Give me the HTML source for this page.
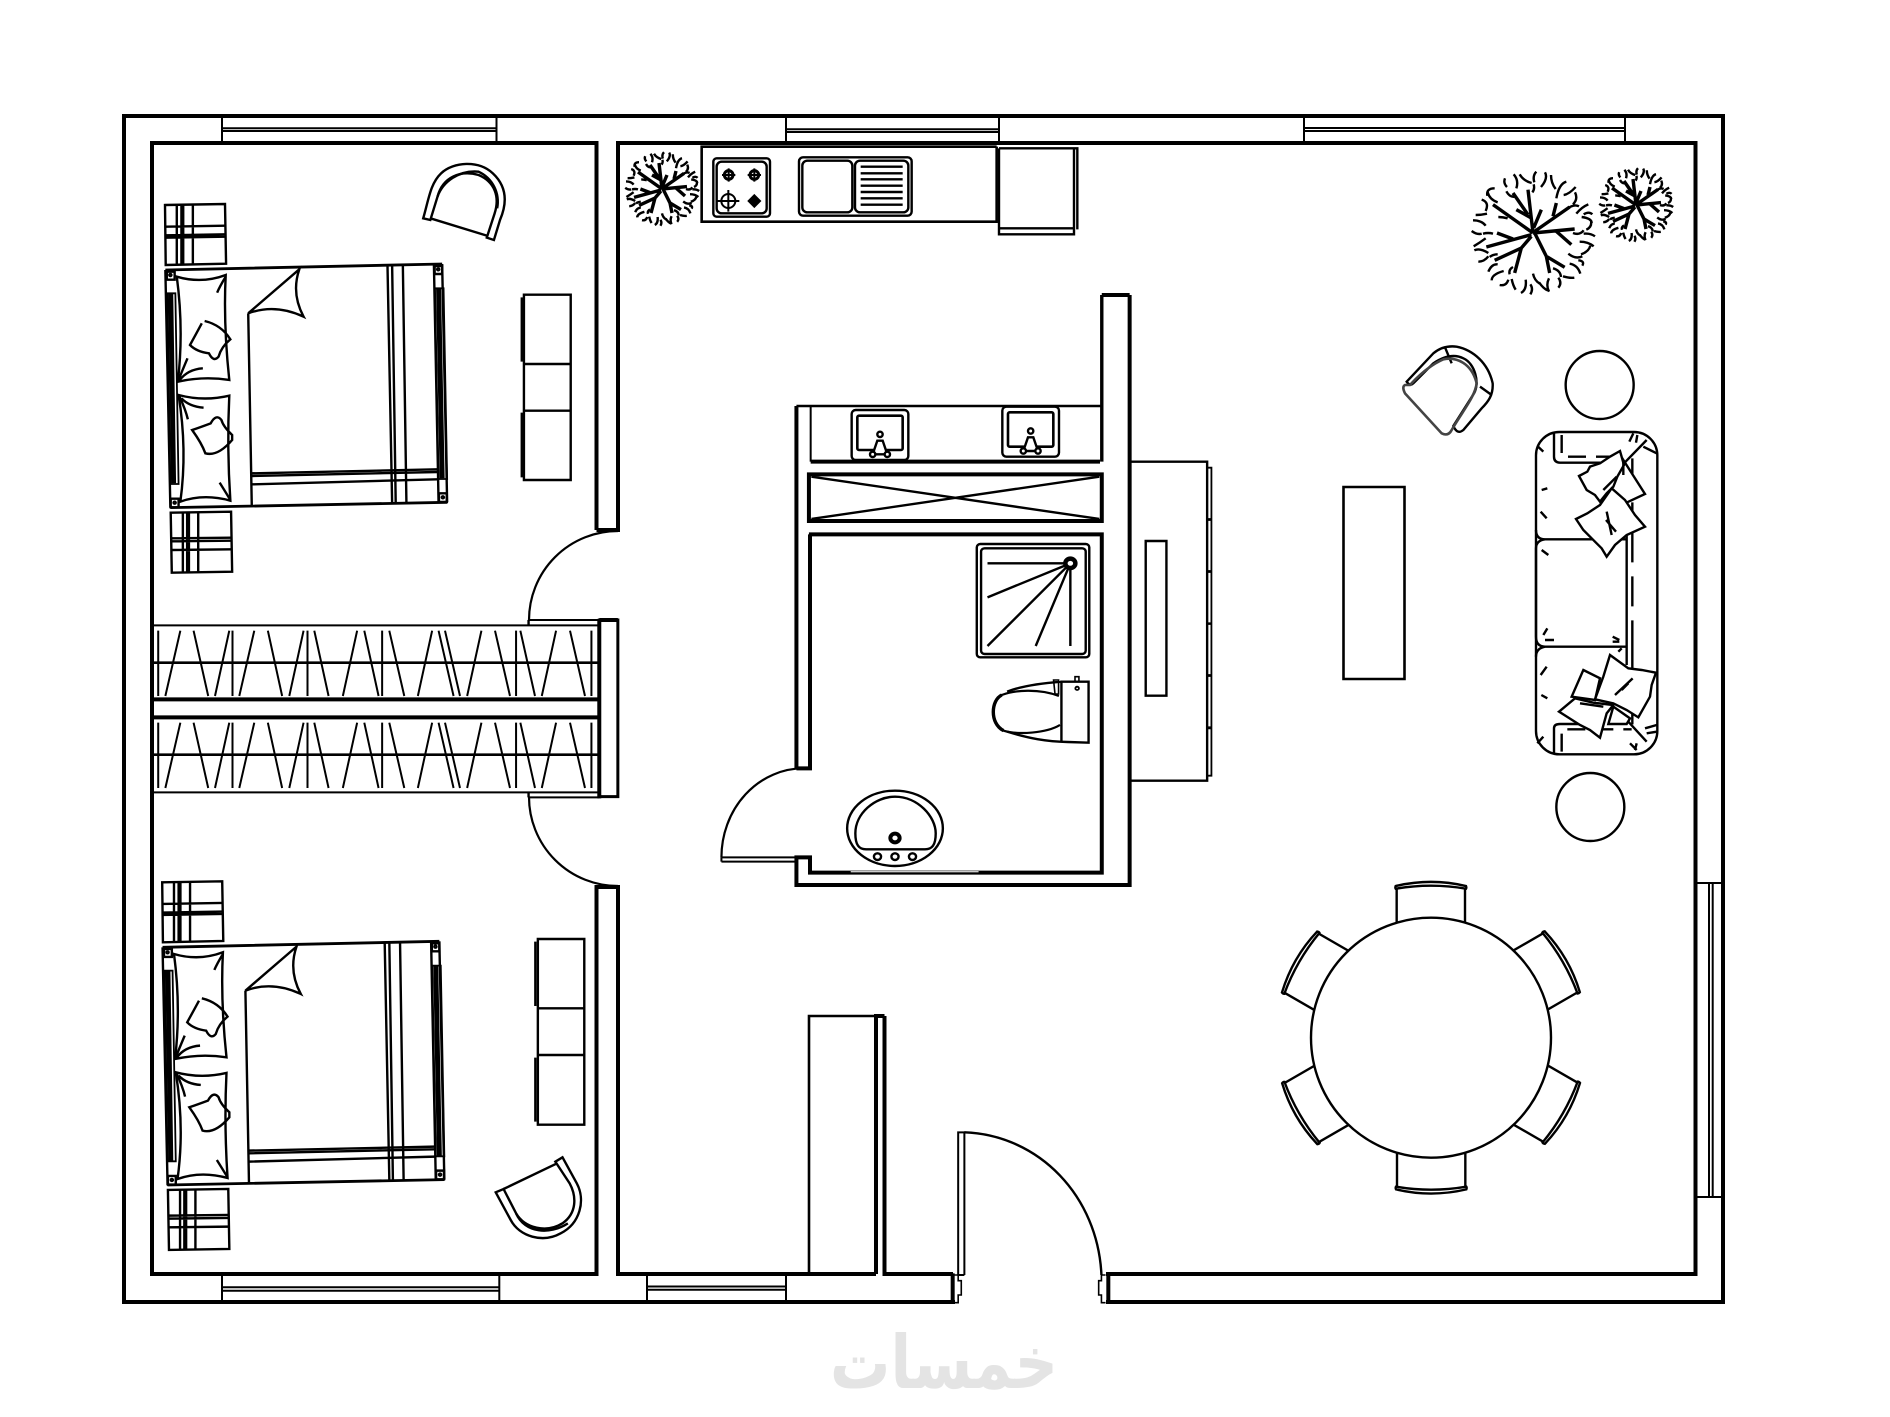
<!DOCTYPE html>
<html><head><meta charset="utf-8"><title>Floor plan</title>
<style>
html,body{margin:0;padding:0;background:#fff}
svg{display:block}
svg *{vector-effect:non-scaling-stroke}
</style></head>
<body>
<svg xmlns="http://www.w3.org/2000/svg" width="1890" height="1417" viewBox="0 0 1890 1417" fill="none" stroke="#000" stroke-width="2.4" stroke-linejoin="miter">
<rect x="0" y="0" width="1890" height="1417" fill="#fff" stroke="none"/>
<defs>
<g id="tree">
<path transform="translate(-400,-400)" d="M342 224q16 18 8 42M316 236q-6 14 6 26M360 224q12 20 36 26M398 278q8-10 4-24M410 216q-12 12-6 32M436 218q10 18-12 44M454 226q0 24 14 42M500 246q-22 6-30 50M528 262q-20 22-36 24M526 278q10 20-6 36M285 266q-26 0-22 22M264 278q6 22 30 30M320 275q10 18 24 16M246 300q24 8 12 34M262 342q-18 4-34 4M296 352q14 0 28 4M220 362q26 0 38 16M216 394q16 12 30 8M250 402q16-4 30 0M222 440q20-12 36-24M224 452q16-8 42 8M236 486q18 0 30-16M270 472q10-8 24-8M266 516q10-24 28-22M276 542q0-18 36-28M300 556q20 4 26-16M330 524q-4-14 10-22M336 538q4 20 12 32M364 580q18-10 14-40M392 584q10-16 0-30M400 522q4 20 20 30M418 548q14 20 26 24M448 576q-10-20 0-40M476 564q12-14 0-30M460 506q22 6 24 26M490 530q20 6 34 4M510 492q24 4 32 30M536 482q20 2 12 16M506 462q22 18 42 8M544 464q24-8 28-26M540 426q26 0 42 14M520 400q20 8 32-8M552 402q20-2 34 8M546 352q30 4 30 18M552 344q16-10 26 0M574 362q4 20-14 28M530 342q16-20 36-28M502 328q20-16 36-8"/>
<g stroke-width="3.4">
<path d="M0 0L-15 -130M-60 -120L-15 -55M-50 -70L-5 -45M0 0L-120 -85M0 0L125 -12M5 -5L110 -78M70 -90L60 -50M25 -70L2 -15M70 -5L115 35M5 0L40 70L95 103M40 70L50 120M-5 5L-140 42M-108 0L-60 18M-5 10L-35 45L-115 82M-35 45L-55 120"/>
</g>
</g>
<g id="closet" stroke-width="2">
<path d="M163 92V288M225 92L183 288M262 92L303 288M362 92L322 288M371 92V288M432 92L390 288M470 92L510 288M570 92L530 288M581 92V288M600 92L640 288M720 92L680 288M740 92L780 288M790 92V288M810 92L852 288M930 92L890 288M948 92L990 288M966 92L1008 288M1068 92L1028 288M1106 92L1148 288M1165 92V288M1177 92L1218 288M1277 92L1237 288M1316 92L1358 288M1376 92V288"/>
<path d="M150 188H1396" stroke-width="2.6"/>
</g>
<g id="bed">
<path d="M183 540L958 522M197 1253L972 1237" stroke-width="2.8"/>
<path d="M183 540L197 1253M935 525L948 1238M958 522L972 1237"/>
<rect x="187" y="545" width="22" height="24"/><circle cx="197" cy="555" r="3"/>
<rect x="937" y="528" width="21" height="24"/><circle cx="947" cy="538" r="3"/>
<rect x="949" y="1210" width="22" height="26"/><circle cx="960" cy="1222" r="3"/>
<rect x="198" y="1226" width="22" height="26"/><circle cx="209" cy="1238" r="3"/>
<path d="M198 610L206 1180M948 595L958 1165" stroke-width="5"/>
<path d="M189 610L197 1182H220L211 610ZM938 595L948 1167H972L962 595Z" stroke-width="1.8"/>
<path d="M215 560Q285 582 352 555Q345 700 362 870Q290 858 218 875Q235 720 215 560Z"/>
<path d="M220 915Q290 935 362 917Q355 1070 365 1232Q290 1210 225 1235Q245 1080 220 915Z"/>
<path d="M352 560Q335 590 328 608M218 875Q235 830 245 805M222 872Q245 838 288 835M222 918Q240 960 246 988M228 925Q250 950 290 953M365 1230Q345 1195 335 1178"/>
<path d="M293 693Q340 705 365 748Q340 770 332 800Q318 818 305 790Q270 785 252 765Q270 730 285 700"/>
<path d="M370 1035Q345 1010 340 990Q325 970 310 1000Q280 1012 258 1020Q285 1060 295 1090Q330 1100 370 1050Z"/>
<path d="M415 670L425 1248M415 670L558 538Q535 610 570 680Q490 640 415 670Z"/>
<path d="M805 527L818 1240M818 527L828 1240M848 527L858 1240"/>
<path d="M425 1150L945 1138M425 1158L945 1146M425 1183L945 1168" stroke-width="2.4"/>
<path d="M182 345L350 342L353 521L184 525Z"/>
<path d="M215 345V523M228 345V523M233 345V523M260 345V522M184 410L351 407M184 436L351 433M184 443L351 440"/>
<path d="M198 1268L367 1265L370 1445L201 1448Z"/>
<path d="M232 1268V1447M244 1268V1447M249 1268V1447M275 1268V1446M200 1345L368 1343M200 1354L368 1352M200 1380L369 1378"/>
</g>
<g id="dc">
<path d="M-103 -175V-456M102 -175V-456" />
<path d="M-106 -455Q0 -480 105 -455Q107 -450 105 -447Q0 -465 -106 -447Q-108 -450 -106 -455Z" fill="#fff"/>
</g>
</defs>

<!-- walls -->
<g stroke-width="4">
<path d="M955 1302H124V116H1723V1302H1106"/>
<path d="M596.5 530V143H152V1274H596.5V887H618V1274H876"/>
<path d="M596.5 530H618V143H1695.5V1274H1106"/>
<path d="M884.5 1016V1274H953"/>
<path d="M876 1274V1016H884.5" />
</g>
<path d="M809 1274V1016H876" stroke-width="2.6"/>
<rect x="1343.5" y="487" width="61" height="192" stroke-width="2.6"/>

<!-- windows -->
<g stroke-width="2">
<path d="M222 116V143M496.5 116V143M222 128.3H496.5M222 131H496.5"/>
<path d="M786 116V143M999 116V143M786 129.3H999M786 132H999"/>
<path d="M1304 116V143M1625 116V143M1304 128H1625M1304 131H1625"/>
<path d="M1696 883H1723M1696 1197H1723M1709 883V1197M1712.7 883V1197"/>
<path d="M222 1274V1302M499.3 1274V1302M222 1287.3H499.3M222 1290.7H499.3"/>
<path d="M647 1274V1302M786 1274V1302M647 1286.5H786M647 1289.7H786"/>
</g>

<!-- closets & bedroom doors -->
<g transform="translate(100,600) scale(.35714,.33333)">
<path d="M1398 60H1450V590H1398Z" stroke-width="3"/>
<path d="M1398 60V595M1398 60H1450" stroke-width="4"/>
<path d="M150 76H1398M1200 60H1398M150 577H1398M1200 592H1398" stroke-width="2"/>
<path d="M1200 60V76M1200 577V592"/>
<path d="M145 298H1398M145 352H1398" stroke-width="4"/>
<use href="#closet"/>
<use href="#closet" transform="translate(0,276)"/>
</g>
<path d="M529 620A89 89 0 0 1 618 531" stroke-width="2.2"/>
<path d="M529 797A89 89 0 0 0 618 886" stroke-width="2.2"/>

<!-- beds -->
<g transform="translate(100,90) scale(.35714,.33333)">
<use href="#bed"/>
<rect x="1187" y="614" width="131" height="556" stroke-width="2.4"/>
<path d="M1187 822H1318M1187 962H1318" stroke-width="2.4"/>
<path d="M1181 622V815M1181 968V1162" stroke-width="2.4"/>
<path d="M905 385C920 330 925 280 955 250C990 215 1060 210 1100 250C1140 290 1140 340 1120 390L1103 450L1083 443L1105 370C1120 320 1105 275 1060 255C1010 240 960 260 945 320L925 390Z"/>
<path d="M945 320C960 275 1005 240 1060 245C1100 265 1120 310 1112 355M925 385L1083 437"/>
</g>
<g transform="translate(-2.8,677.3)">
<g transform="translate(100,90) scale(.35714,.33333)"><use href="#bed"/></g>
</g>
<g transform="translate(100,880) scale(.35714,.33333)">
<rect x="1226" y="177" width="130" height="557" stroke-width="2.4"/>
<path d="M1226 385H1356M1226 525H1356" stroke-width="2.4"/>
<path d="M1219 185V378M1219 533V725" stroke-width="2.4"/>
<path d="M1108 937L1150 1020C1175 1070 1240 1090 1290 1060C1345 1030 1360 960 1335 910L1295 832L1275 845L1315 910C1335 950 1335 1000 1295 1030C1250 1060 1190 1045 1165 1000L1130 927Z"/>
<path d="M1130 927L1280 850M1165 1000C1190 1060 1260 1065 1310 1030"/>
</g>

<!-- kitchen -->
<g transform="translate(600,110) scale(.33333)">
<path d="M1190 110H305V335H1190V110" stroke-width="2.6"/>
<path d="M1197 115H1432V358M1422 115V373H1197V115M1197 355H1422" stroke-width="2.4"/>
<rect x="340" y="145" width="170" height="175" rx="10"/>
<rect x="350" y="155" width="150" height="155" rx="15"/>
<g stroke-width="2">
<circle cx="386" cy="195" r="13" stroke-width="3"/><path d="M386 175V215M366 195H406"/>
<circle cx="463" cy="195" r="13" stroke-width="3"/><path d="M463 175V215M443 195H483"/>
<circle cx="385" cy="273" r="21"/><path d="M385 240V305M352 273H418"/>
<path d="M463 256L480 273L463 290L446 273Z" fill="#000"/>
</g>
<rect x="597" y="142" width="338" height="175" rx="12"/>
<rect x="607" y="152" width="150" height="155" rx="15"/>
<rect x="765" y="152" width="160" height="155" rx="15"/>
<path d="M782 170H908M782 190H908M782 208H908M782 227H908M782 246H908M782 265H908M782 284H908"/>

<!-- vanity -->
<path d="M632 888V1055" stroke-width="2"/>
<path d="M632 1055H1500" stroke-width="4"/>
<g id="sk">
<rect x="755" y="900" width="170" height="150" rx="12"/>
<rect x="772" y="917" width="136" height="103" rx="5" stroke-width="2.6"/>
<circle cx="840" cy="973" r="8"/>
<path d="M832 992H848L862 1033H818Z" fill="#fff"/>
<circle cx="818" cy="1033" r="8" fill="#fff"/><circle cx="862" cy="1033" r="8" fill="#fff"/>
</g>
<use href="#sk" transform="translate(452,-10)"/>
</g>

<!-- bathroom -->
<g transform="translate(700,420) scale(.35714,.33333)">
<path d="M270 1045V-42M1203 -375V1395H270V1312H308V1358H1125V343H305M308 343V1045H270" stroke-width="4"/>
<path d="M270 -42H1125" stroke-width="2.4"/>
<path d="M1125 -375H1203" stroke-width="4"/>
<path d="M1125 -375V125" stroke-width="3.4"/>
<rect x="305" y="163" width="820" height="140" stroke-width="4"/>
<path d="M312 170L1118 297M312 297L1118 170" stroke-width="2.4"/>
<path d="M60 1312A230 267 0 0 1 290 1045" stroke-width="2.2"/>
<path d="M60 1312H270M60 1325H270M60 1312V1325" stroke-width="2"/>
<path d="M422 1355H780" stroke="#ccc" stroke-width="1.4"/>

<path d="M1205 125H1420V1082H1205" stroke-width="2.4"/>
<rect x="1248" y="363" width="58" height="464" stroke-width="2.4"/>
<path d="M1420 143H1432V297H1420M1420 300H1432V453H1420M1420 456H1432V610H1420M1420 612H1432V765H1420M1420 768H1432V922H1420M1420 925H1432V1067H1420" stroke-width="1.8"/>

<rect x="775" y="372" width="315" height="340" rx="10"/>
<rect x="787" y="385" width="293" height="317" rx="10"/>
<path d="M805 430H1037L805 532M1037 430L805 678M1037 430L940 678M1037 430V678"/>
<circle cx="1037" cy="430" r="14" stroke-width="4.5" fill="#fff"/>

<path d="M1012 785C950 790 900 798 860 815M860 935C920 955 970 965 1030 966L1088 968V785H1012V962"/>
<path d="M1005 828C950 805 880 810 845 825C815 840 810 910 850 932C890 945 970 940 1008 915" stroke-width="2.2"/>
<path d="M845 825C815 840 810 910 850 932" stroke-width="3.4"/>
<path d="M990 780H1004V822H994Z" stroke-width="1.6"/>
<rect x="1050" y="770" width="11" height="15" stroke-width="1.6"/>
<circle cx="1056" cy="805" r="5" stroke-width="1.8"/>

<ellipse cx="546" cy="1225" rx="134" ry="113"/>
<path d="M435 1240C435 1180 490 1130 546 1130C610 1130 660 1190 660 1240C660 1275 650 1288 630 1288H465C445 1288 435 1275 435 1240Z"/>
<circle cx="546" cy="1254" r="13" stroke-width="4"/>
<circle cx="497" cy="1310" r="10"/><circle cx="546" cy="1310" r="10"/><circle cx="595" cy="1310" r="10"/>
</g>

<!-- trees -->
<use href="#tree" transform="translate(662,189) scale(.2)"/>
<use href="#tree" transform="translate(1533,233) scale(.3333)"/>
<use href="#tree" transform="translate(1636,205) scale(.2)"/>

<!-- living room -->
<g transform="translate(1400,100) scale(.33333)">
<circle cx="599" cy="855" r="102"/>
<path d="M20 845L100 760Q130 735 170 740C220 750 265 790 278 850C280 885 265 905 245 925L190 990Q172 1005 160 978L222 880C240 850 225 790 190 775C160 760 130 770 100 790L40 850Q30 860 20 845Z"/>
<path d="M135 742L155 790M240 860L275 885"/>
<path d="M30 855Q80 800 130 778C170 770 215 790 230 850C225 890 190 930 155 990Q145 1010 125 1000L15 880Q5 860 15 855Z" stroke="#444" stroke-width="2.6"/>
</g>
<g transform="translate(1500,420) scale(.33333)">
<rect x="108" y="36" width="364" height="967" rx="70"/>
<path d="M108 330Q108 358 135 358H380M135 358Q108 362 108 385V650Q108 680 135 680H380M135 680Q108 685 108 710M380 345V735"/>
<path d="M397 115V930" stroke-dasharray="30 14 60 14"/>
<path d="M162 40V110Q162 128 180 128H310M162 1000V925Q162 912 180 912H240"/>
<path d="M185 45V110H345M185 995V928H395" stroke-dasharray="18 10"/>
<path d="M372 130L440 60M430 80L470 100M388 65L400 40M408 68L412 45M112 78L130 95M125 210L142 205M122 275L140 295M125 390L145 405M130 645L142 625M135 660H162M338 650L358 660M338 665H358M122 765L140 740M124 825L142 835M112 970L130 950M390 970L410 990M385 905L440 965M435 925L470 915M440 940L470 935M405 990L410 970M355 695L365 685" />
<path d="M370 120L435 222L375 250L335 205Z" fill="#fff"/>
<path d="M237 168L262 155L270 140L300 130L330 110L360 93L372 135L352 170L340 200L320 220L300 245L285 225L260 210Z" fill="#fff"/>
<path d="M228 297L262 280L300 255L335 205L375 240L405 285L435 320L380 345L345 375L320 410L305 385L285 365L250 330Z" fill="#fff"/>
<path d="M320 275L335 345M318 300L348 335M350 170L310 210M370 125V165"/>
<path d="M340 860L390 895L380 912L325 912Z" fill="#fff"/>
<path d="M250 750L300 775L285 840L215 830Z" fill="#fff"/>
<path d="M330 705L385 745L425 750L468 758L455 795L450 830L415 892L380 870L340 850L285 838L310 770Z" fill="#fff"/>
<path d="M177 875L225 835L280 848L340 855L320 880L300 953L270 930L240 915Z" fill="#fff"/>
<path d="M345 825L398 775M365 810L385 790M240 850L310 860"/>
<circle cx="271" cy="1161" r="102"/>
</g>

<!-- dining -->
<g transform="translate(1431,1037.7) scale(.33333)">
<use href="#dc"/>
<use href="#dc" transform="rotate(60)"/>
<use href="#dc" transform="rotate(120)"/>
<use href="#dc" transform="rotate(180)"/>
<use href="#dc" transform="rotate(240)"/>
<use href="#dc" transform="rotate(300)"/>
<circle cx="0" cy="0" r="360" fill="#fff" stroke-width="2.4"/>
</g>

<!-- entry door -->
<g transform="translate(640,1000) scale(.34435,.33333)">
<path d="M924 825V397H942V825M924 825H942" stroke-width="2"/>
<path d="M942 397C1160 405 1330 590 1340 825" stroke-width="2.4"/>
<path d="M908 820V908" stroke-width="4"/>
<path d="M1360 820V908" stroke-width="4"/>
<path d="M912 825H924V842H933V885H924V908H912" stroke-width="1.6"/>
<path d="M1352 825H1340V842H1332V885H1340V908H1352" stroke-width="1.6"/>
</g>

<text x="944" y="1388" text-anchor="middle" font-family="'DejaVu Sans','Noto Sans CJK SC',sans-serif" font-size="74" font-weight="bold" fill="#e4e4e4" stroke="none" textLength="228" lengthAdjust="spacingAndGlyphs" direction="rtl">خمسات</text>
</svg>
</body></html>
